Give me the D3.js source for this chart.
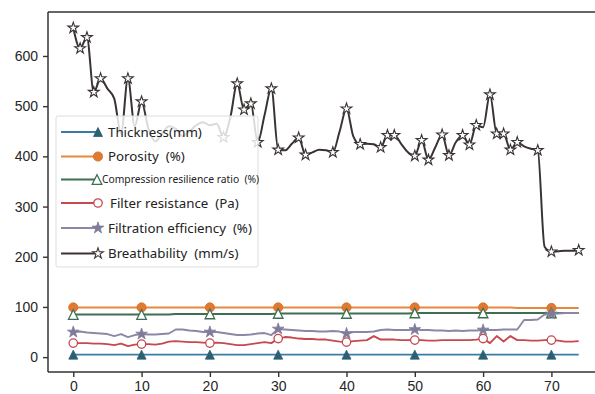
<!DOCTYPE html>
<html>
<head>
<meta charset="utf-8">
<script src="https://cdn.jsdelivr.net/npm/d3@7"></script>
<style>
  html, body { margin: 0; padding: 0; background: #fff; }
  svg { display: block; }
  .axis text { font-family: "Liberation Sans", Arial, sans-serif; font-size: 14px; fill: #262626; }
  .axis path, .axis line { stroke: #333; stroke-width: 1.4; }
  .legend text { font-family: "Noto Sans", "DejaVu Sans", sans-serif; fill: #222; white-space: pre; }
</style>
</head>
<body>
<div id="chart"></div>
<script>
// sample index 0..74
var sampleIdx = d3.range(75);

var thickness = [5,5,5,5,5,5,5,5,5,5, 5,5,5,5,5,5,5,5,5,5, 5,5,5,5,5,5,5,5,5,5,
  5,5,5,5,5,5,5,5,5,5, 5,5,5,5,5,5,5,5,5,5, 5,5,5,5,5,5,5,5,5,5, 5,5,5,5,5,5,5,5,5,5, 5,5,5,5,5];

var porosity = [99,99,99,99,99,99,99,99,99,99, 99,99,99,99,99,99,99,99,99,99, 99,99,99,99,99,99,99,99,99,99,
  99,99,99,99,99,99,99,99,99,99, 99,99,99,99,99,99,99,99,99,99, 99,99,99,99,99,99,99,99,99,99,
  99,99,99,99,99,98,98,98,98,98, 98,98,98,98,98];

var compression = [85,85,85,85,85,85,85,85,85,85, 85,85,85,85,85,86,86,86,86,86, 86,86,86,86,86,86,86,86,86,86,
  87,87,87,87,87,87,87,87,87,87, 87,87,87,87,87,87,87,87,87,87, 88,88,88,88,88,88,88,88,88,88,
  88,88,88,88,88,88,88,88,88,88, 88,88,88,88,88];

var filterRes = [28,28,28,27,27,26,24,27,22,25, 26,26,25,27,31,32,31,30,30,29, 28,29,28,26,24,24,26,28,30,28,
  37,40,39,37,36,36,35,35,33,31, 30,32,33,34,42,35,35,35,34,34, 34,34,33,33,34,34,34,34,34,35,
  37,28,42,31,42,34,34,33,33,34, 34,33,31,31,32];

var filtration = [50,51,49,48,47,46,42,46,40,44, 46,45,45,46,47,55,55,53,52,50, 50,50,48,46,44,44,45,47,48,44,
  56,55,54,53,52,52,51,51,52,51, 47,50,50,50,51,54,55,54,54,54, 55,54,54,53,53,52,53,52,53,53,
  54,54,54,55,55,55,74,74,75,85, 86,87,88,88,88];

var breathability = [656,615,637,528,555,535,515,445,555,460, 509,455,430,445,460,455,440,450,462,468,
  462,465,438,478,545,493,505,428,482,535, 413,412,425,437,403,408,413,412,408,450,
  495,440,424,425,424,418,442,442,425,408, 401,432,393,418,443,402,428,442,423,462,
  458,523,445,445,413,428,420,415,412,220, 210,211,212,212,213];

// samples that carry a star marker on the breathability curve
var breathStars = [0,1,2,3,4,8,10,22,24,25,26,27,29,30,33,34,38,40,42,45,46,47,
  50,51,52,54,55,57,58,59,61,62,63,64,65,68,70,74];

var markEvery = [0,10,20,30,40,50,60,70];

var xTicks = [0,10,20,30,40,50,60,70];
var yTicks = [0,100,200,300,400,500,600];

var legendLabels = ["Thickness(mm)", "Porosity  (%)", "Compression resilience ratio  (%)",
  "Filter resistance  (Pa)", "Filtration efficiency  (%)", "Breathability  (mm/s)"];

var W = 595, H = 394;
var svg = d3.select('#chart').append('svg').attr('width', W).attr('height', H);

var x = d3.scaleLinear().domain([-3.7, 77.7]).range([48, 604]);
var y = d3.scaleLinear().domain([-29.6, 687.6]).range([372, 12]);

svg.append('defs').append('clipPath').attr('id', 'plotclip')
  .append('rect').attr('x', 48).attr('y', 12).attr('width', 556).attr('height', 360);

// marker shapes (box-centred like matplotlib)
function triPath(r) { return 'M0,' + (-r) + 'L' + r + ',' + r + 'L' + (-r) + ',' + r + 'Z'; }
var starSym = function(size) { return d3.symbol(d3.symbolStar, size)(); };

var series = [
  { key: 'thick', values: thickness, color: '#3a7ca5', marks: markEvery,
    marker: function(g) { g.append('path').attr('d', triPath(4.5)).attr('fill', '#2b5f72').attr('stroke', '#2b5f72').attr('stroke-width', 0.8); } },
  { key: 'poro', values: porosity, color: '#e8883c', marks: markEvery,
    marker: function(g) { g.append('circle').attr('r', 4.6).attr('fill', '#e07a30').attr('stroke', '#d06d28').attr('stroke-width', 0.8); } },
  { key: 'comp', values: compression, color: '#3f6e55', marks: markEvery,
    marker: function(g) { g.append('path').attr('d', triPath(4.8)).attr('fill', '#fff').attr('stroke', '#3f6e55').attr('stroke-width', 1.3); } },
  { key: 'filt', values: filterRes, color: '#c7484e', marks: markEvery,
    marker: function(g) { g.append('circle').attr('r', 4.2).attr('fill', '#fff').attr('stroke', '#c7484e').attr('stroke-width', 1.3); } },
  { key: 'eff', values: filtration, color: '#8b87a6', marks: markEvery,
    marker: function(g) { g.append('path').attr('d', starSym(42)).attr('fill', '#7f7b98').attr('stroke', '#7f7b98').attr('stroke-width', 0.8); } },
  { key: 'breath', values: breathability, color: '#3a3333', marks: breathStars,
    marker: function(g) { g.append('path').attr('d', starSym(36)).attr('fill', '#fff').attr('stroke', '#3a3333').attr('stroke-width', 1.1); } }
];

var plot = svg.append('g').attr('clip-path', 'url(#plotclip)');

series.forEach(function(s) {
  var line = d3.line()
    .x(function(d, i) { return x(sampleIdx[i]); })
    .y(function(d) { return y(d); })
    .curve(s.key === 'breath' ? d3.curveMonotoneX : d3.curveLinear);
  plot.append('path').datum(s.values)
    .attr('d', line)
    .attr('fill', 'none')
    .attr('stroke', s.color)
    .attr('stroke-width', s.key === 'breath' ? 2 : 1.9)
    .attr('stroke-linejoin', 'round');
  s.marks.forEach(function(i) {
    var g = plot.append('g').attr('transform', 'translate(' + x(sampleIdx[i]) + ',' + y(s.values[i]) + ')');
    s.marker(g);
  });
});

// axes
var yAxis = svg.append('g').attr('class', 'axis').attr('transform', 'translate(48,0)')
  .call(d3.axisLeft(y).tickValues(yTicks).tickSize(5).tickPadding(5).tickSizeOuter(0));
var xAxis = svg.append('g').attr('class', 'axis').attr('transform', 'translate(0,372)')
  .call(d3.axisBottom(x).tickValues(xTicks).tickSize(5).tickPadding(4).tickSizeOuter(0));
yAxis.select('.domain').remove();
xAxis.select('.domain').remove();

// frame
svg.append('line').attr('x1', 48).attr('x2', 48).attr('y1', 12).attr('y2', 372).attr('stroke', '#333').attr('stroke-width', 1.5);
svg.append('line').attr('x1', 48).attr('x2', 604).attr('y1', 12).attr('y2', 12).attr('stroke', '#333').attr('stroke-width', 1.5);
svg.append('line').attr('x1', 48).attr('x2', 604).attr('y1', 372).attr('y2', 372).attr('stroke', '#333').attr('stroke-width', 1.5);

// legend
var legend = svg.append('g').attr('class', 'legend');
legend.append('rect').attr('x', 56).attr('y', 116).attr('width', 202).attr('height', 151)
  .attr('rx', 2).attr('fill', '#fff').attr('fill-opacity', 0.82).attr('stroke', '#ddd').attr('stroke-width', 1);

var rowY = [132, 156.5, 179.5, 203, 228, 253.5];
series.forEach(function(s, k) {
  var yy = rowY[k];
  legend.append('line').attr('x1', 61).attr('x2', 97).attr('y1', yy).attr('y2', yy)
    .attr('stroke', s.color).attr('stroke-width', 2);
  var g = legend.append('g').attr('transform', 'translate(' + (k === 2 ? 97 : 98) + ',' + yy + ')');
  s.marker(g);
  legend.append('text')
    .attr('x', k === 2 ? 102 : (k === 3 ? 110 : 108))
    .attr('y', yy)
    .attr('dy', '0.36em')
    .style('font-size', k === 2 ? '10.3px' : '13.3px')
    .text(legendLabels[k]);
});
</script>
</body>
</html>
